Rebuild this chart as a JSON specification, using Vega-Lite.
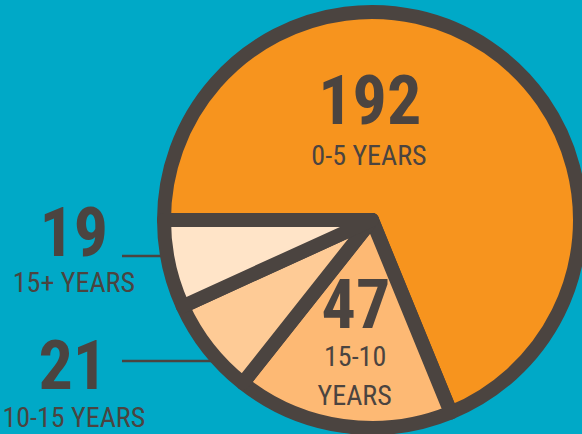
{
  "$schema": "https://vega.github.io/schema/vega-lite/v6.json",
  "width": 420,
  "height": 428,
  "autosize": {"type": "none"},
  "padding": {"left": 162, "top": 6, "right": 0, "bottom": 0},
  "background": "#00A9C7",
  "config": {"view": {"stroke": null}},
  "data": {
    "values": [
      {"group": "0-5 YEARS", "count": 192, "order": 1},
      {"group": "15-10 YEARS", "count": 47, "order": 2},
      {"group": "10-15 YEARS", "count": 21, "order": 3},
      {"group": "15+ YEARS", "count": 19, "order": 4}
    ]
  },
  "layer": [
    {
      "transform": [{"filter": "datum.group === '15+ YEARS'"}],
      "mark": {"type": "rule", "stroke": "#4B4440", "strokeWidth": 2.5},
      "encoding": {"x": {"value": -40}, "x2": {"value": 5}, "y": {"value": 250}}
    },
    {
      "transform": [{"filter": "datum.group === '10-15 YEARS'"}],
      "mark": {"type": "rule", "stroke": "#4B4440", "strokeWidth": 2.5},
      "encoding": {"x": {"value": -40}, "x2": {"value": 55}, "y": {"value": 355}}
    },
    {
      "encoding": {
        "theta": {"field": "count", "type": "quantitative", "stack": true, "scale": {"range": [4.712389, 10.995574]}},
        "order": {"field": "order", "type": "quantitative", "sort": "ascending"}
      },
      "layer": [
        {
          "mark": {"type": "arc", "outerRadius": 208, "stroke": "#4B4440", "strokeWidth": 14, "strokeJoin": "round"},
          "encoding": {
            "color": {
              "field": "group",
              "type": "nominal",
              "scale": {
                "domain": ["0-5 YEARS", "15-10 YEARS", "10-15 YEARS", "15+ YEARS"],
                "range": ["#F7941E", "#FDB974", "#FECB96", "#FFE4C8"]
              },
              "legend": null
            }
          }
        },
        {
          "mark": {"type": "text", "radius": 100, "dx": -58, "dy": -13, "font": "Roboto Condensed, DejaVu Sans Condensed, sans-serif", "fontWeight": "bold", "fontSize": 68, "fill": "#4B4440", "align": "center", "baseline": "alphabetic"},
          "encoding": {"text": {"condition": {"test": "datum.group === '0-5 YEARS'", "field": "count", "type": "quantitative"}, "value": ""}}
        },
        {
          "mark": {"type": "text", "radius": 60, "dx": -36.5, "dy": -5, "font": "Roboto Condensed, DejaVu Sans Condensed, sans-serif", "fontSize": 28, "fill": "#4B4440", "align": "center", "baseline": "alphabetic"},
          "encoding": {"text": {"condition": {"test": "datum.group === '0-5 YEARS'", "field": "group", "type": "nominal"}, "value": ""}}
        },
        {
          "mark": {"type": "text", "radius": 111, "dx": -0.5, "dy": -1.5, "font": "Roboto Condensed, DejaVu Sans Condensed, sans-serif", "fontWeight": "bold", "fontSize": 68, "fill": "#4B4440", "align": "center", "baseline": "alphabetic"},
          "encoding": {"text": {"condition": {"test": "datum.group === '15-10 YEARS'", "field": "count", "type": "quantitative"}, "value": ""}}
        },
        {
          "mark": {"type": "text", "radius": 149, "dx": 4, "dy": -2, "font": "Roboto Condensed, DejaVu Sans Condensed, sans-serif", "fontSize": 28, "fill": "#4B4440", "align": "center", "baseline": "alphabetic"},
          "encoding": {"text": {"condition": {"test": "datum.group === '15-10 YEARS'", "value": "15-10"}, "value": ""}}
        },
        {
          "mark": {"type": "text", "radius": 188, "dx": 9, "dy": -1.5, "font": "Roboto Condensed, DejaVu Sans Condensed, sans-serif", "fontSize": 28, "fill": "#4B4440", "align": "center", "baseline": "alphabetic"},
          "encoding": {"text": {"condition": {"test": "datum.group === '15-10 YEARS'", "value": "YEARS"}, "value": ""}}
        },
        {
          "mark": {"type": "text", "radius": 300, "dx": -5, "dy": -28, "font": "Roboto Condensed, DejaVu Sans Condensed, sans-serif", "fontWeight": "bold", "fontSize": 68, "fill": "#4B4440", "align": "center", "baseline": "alphabetic"},
          "encoding": {"text": {"condition": {"test": "datum.group === '15+ YEARS'", "field": "count", "type": "quantitative"}, "value": ""}}
        },
        {
          "mark": {"type": "text", "radius": 300, "dx": -5, "dy": 8.5, "font": "Roboto Condensed, DejaVu Sans Condensed, sans-serif", "fontSize": 28, "fill": "#4B4440", "align": "center", "baseline": "alphabetic"},
          "encoding": {"text": {"condition": {"test": "datum.group === '15+ YEARS'", "field": "group", "type": "nominal"}, "value": ""}}
        },
        {
          "mark": {"type": "text", "radius": 340, "dx": -31.5, "dy": -40.5, "font": "Roboto Condensed, DejaVu Sans Condensed, sans-serif", "fontWeight": "bold", "fontSize": 68, "fill": "#4B4440", "align": "center", "baseline": "alphabetic"},
          "encoding": {"text": {"condition": {"test": "datum.group === '10-15 YEARS'", "field": "count", "type": "quantitative"}, "value": ""}}
        },
        {
          "mark": {"type": "text", "radius": 340, "dx": -30.5, "dy": -3, "font": "Roboto Condensed, DejaVu Sans Condensed, sans-serif", "fontSize": 28, "fill": "#4B4440", "align": "center", "baseline": "alphabetic"},
          "encoding": {"text": {"condition": {"test": "datum.group === '10-15 YEARS'", "field": "group", "type": "nominal"}, "value": ""}}
        }
      ]
    }
  ]
}
